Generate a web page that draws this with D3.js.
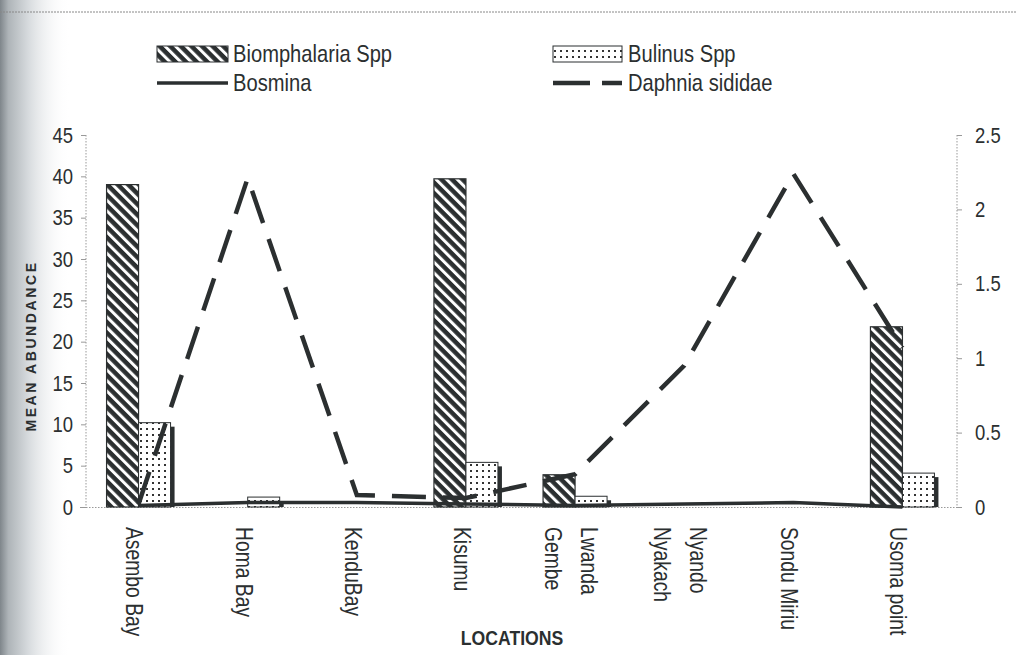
<!DOCTYPE html>
<html><head><meta charset="utf-8">
<script src="https://cdn.jsdelivr.net/npm/d3@7"></script>
<style>
html,body{margin:0;padding:0;background:#fff;}
svg{display:block;}
</style></head>
<body>
<svg id="chart" width="1016" height="655"></svg>
<script>
const categories = ["Asembo Bay","Homa Bay","KenduBay","Kisumu","Gembe Lwanda","Nyakach Nyando","Sondu Miriu","Usoma point"];
const categoryLines = [["Asembo Bay"],["Homa Bay"],["KenduBay"],["Kisumu"],["Gembe","Lwanda"],["Nyakach","Nyando"],["Sondu Miriu"],["Usoma point"]];
const biomphalaria = [39, 0, 0, 39.7, 3.9, 0, 0, 21.8];
const bulinus = [10.2, 1.2, 0, 5.4, 1.3, 0, 0, 4.1];
const bosmina = [0.01, 0.03, 0.03, 0.02, 0.01, 0.02, 0.03, 0.0];
const daphnia = [0.02, 2.21, 0.08, 0.06, 0.22, 0.95, 2.24, 1.07];
const leftTicks = [0,5,10,15,20,25,30,35,40,45];
const rightTicks = [0,0.5,1,1.5,2,2.5];
const seriesNames = ["Biomphalaria Spp","Bulinus Spp","Bosmina","Daphnia sididae"];

const svg = d3.select("#chart");
const ink = "#2b2f30";
const font = "'Liberation Sans',Arial,sans-serif";
const SX = 0.84; // condensed look of the original narrow face

const defs = svg.append("defs");
const hatch = defs.append("pattern").attr("id","hatch").attr("patternUnits","userSpaceOnUse")
  .attr("width",7.5).attr("height",7.5).attr("patternTransform","rotate(45)");
hatch.append("rect").attr("width",7.5).attr("height",7.5).attr("fill","#fff");
hatch.append("rect").attr("width",7.5).attr("height",4.5).attr("fill",ink);
const dots = defs.append("pattern").attr("id","dots").attr("patternUnits","userSpaceOnUse")
  .attr("width",6).attr("height",6);
dots.append("rect").attr("width",6).attr("height",6).attr("fill","#fff");
dots.append("rect").attr("x",2).attr("y",2).attr("width",2).attr("height",2).attr("fill","#333");
const grad = defs.append("linearGradient").attr("id","shade").attr("x1","0").attr("x2","1").attr("y1","0").attr("y2","0");
grad.append("stop").attr("offset","0%").attr("stop-color","#7f868b");
grad.append("stop").attr("offset","12%").attr("stop-color","#aeb4b8");
grad.append("stop").attr("offset","40%").attr("stop-color","#d6dadd");
grad.append("stop").attr("offset","100%").attr("stop-color","#ffffff").attr("stop-opacity",0);

function narrowText(parent, px, py, rot, txt, size, anchor, extra) {
  const t = parent.append("text")
    .attr("transform", `translate(${px},${py}) rotate(${rot}) scale(${SX},1)`)
    .attr("font-family", font).attr("font-size", size).attr("fill", ink)
    .attr("text-anchor", anchor || "start").text(txt);
  if (extra) extra(t);
  return t;
}

// scan shading on left edge
svg.append("rect").attr("x",0).attr("y",0).attr("width",70).attr("height",655).attr("fill","url(#shade)");
// top dotted rule
svg.append("line").attr("x1",0).attr("x2",1016).attr("y1",12).attr("y2",12)
  .attr("stroke","#888").attr("stroke-width",1).attr("stroke-dasharray","2,1");

const x = d3.scaleBand().domain(categories).range([84, 957]).paddingInner(0).paddingOuter(0);
const yL = d3.scaleLinear().domain([0,45]).range([507,135]);
const yR = d3.scaleLinear().domain([0,2.5]).range([507,135]);
const cx = c => x(c) + x.bandwidth()/2;
const barW = 32;

// axes
const leftAxis = d3.axisLeft(yL).tickValues(leftTicks).tickSize(5).tickPadding(10);
const gL = svg.append("g").attr("transform","translate(86,0)").call(leftAxis);
gL.select(".domain").attr("stroke","#999").attr("stroke-dasharray","1.5,1.5").attr("d","M0,135V507");
gL.selectAll(".tick line").attr("stroke","#999");
gL.selectAll(".tick text").remove();
leftTicks.forEach(v => narrowText(svg, 73, yL(v), 0, String(v), 22, "end", t => t.attr("dominant-baseline","central")));

const rightAxis = d3.axisRight(yR).tickValues(rightTicks).tickSize(5).tickPadding(13).tickFormat(d3.format("~g"));
const gR = svg.append("g").attr("transform","translate(957,0)").call(rightAxis);
gR.select(".domain").attr("stroke","#999").attr("stroke-dasharray","1.5,1.5").attr("d","M0,135V507");
gR.selectAll(".tick line").attr("stroke","#999");
gR.selectAll(".tick text").remove();
const fmt = d3.format("~g");
rightTicks.forEach(v => narrowText(svg, 975, yR(v), 0, fmt(v), 22, "start", t => t.attr("dominant-baseline","central")));

// baseline
svg.append("line").attr("x1",80).attr("x2",962).attr("y1",507.5).attr("y2",507.5)
  .attr("stroke","#999").attr("stroke-dasharray","1.5,1.5");

// bars
const bars = svg.append("g");
bars.selectAll("rect.bio").data(categories).join("rect").attr("class","bio")
  .attr("x", c => cx(c) - barW)
  .attr("y", (c,i) => yL(biomphalaria[i]))
  .attr("width", barW)
  .attr("height", (c,i) => yL(0) - yL(biomphalaria[i]))
  .attr("fill","url(#hatch)").attr("stroke",ink).attr("stroke-width",1.2)
  .attr("display",(c,i)=> biomphalaria[i] > 0 ? null : "none");
bars.selectAll("rect.bul").data(categories).join("rect").attr("class","bul")
  .attr("x", c => cx(c))
  .attr("y", (c,i) => yL(bulinus[i]))
  .attr("width", barW)
  .attr("height", (c,i) => yL(0) - yL(bulinus[i]))
  .attr("fill","url(#dots)").attr("stroke",ink).attr("stroke-width",1)
  .attr("display",(c,i)=> bulinus[i] > 0 ? null : "none");
bars.selectAll("rect.side").data(categories).join("rect").attr("class","side")
  .attr("x", c => cx(c) + barW)
  .attr("y", (c,i) => Math.min(yL(bulinus[i]) + 4, 506))
  .attr("width", 4)
  .attr("height", (c,i) => Math.max(yL(0) - yL(bulinus[i]) - 4, 1.5))
  .attr("fill",ink)
  .attr("display",(c,i)=> bulinus[i] > 0 ? null : "none");

// lines
const lineR = d3.line().x((d,i) => cx(categories[i])).y(d => yR(d));
svg.append("path").datum(bosmina).attr("d", lineR).attr("fill","none")
  .attr("stroke",ink).attr("stroke-width",3.5);
svg.append("path").datum(daphnia).attr("d", lineR).attr("fill","none")
  .attr("stroke",ink).attr("stroke-width",4.5).attr("stroke-dasharray","34,17").attr("stroke-linejoin","miter");

// x labels
const xl = svg.append("g");
categories.forEach((c,i) => {
  const lines = categoryLines[i];
  lines.forEach((t,j) => {
    const px = cx(c) - 4 + (j - (lines.length-1)/2) * 36;
    narrowText(xl, px, 527, 90, t, 23, "start", e => e.attr("dominant-baseline","central"));
  });
});

// axis titles
svg.append("text").attr("transform","translate(31,346) rotate(-90)").attr("text-anchor","middle")
  .attr("dominant-baseline","central").attr("font-family",font)
  .attr("font-weight","bold").attr("font-size",14).attr("letter-spacing",2.6).attr("fill",ink).text("MEAN ABUNDANCE");
narrowText(svg, 512, 645, 0, "LOCATIONS", 21, "middle", t => t.attr("font-weight","bold"));

// legend
const lg = svg.append("g");
lg.append("rect").attr("x",157).attr("y",46).attr("width",71).attr("height",16).attr("fill","url(#hatch)").attr("stroke",ink);
lg.append("rect").attr("x",553).attr("y",46).attr("width",69).attr("height",16).attr("fill","url(#dots)").attr("stroke",ink);
lg.append("line").attr("x1",157).attr("x2",228).attr("y1",83).attr("y2",83).attr("stroke",ink).attr("stroke-width",3.5);
lg.append("line").attr("x1",553).attr("x2",622).attr("y1",83).attr("y2",83).attr("stroke",ink).attr("stroke-width",4.5).attr("stroke-dasharray","37,12");
const legPos = [[233,62],[628,62],[233,91],[628,91]];
seriesNames.forEach((n,i) => narrowText(lg, legPos[i][0], legPos[i][1], 0, n, 24, "start"));
</script>
</body></html>
